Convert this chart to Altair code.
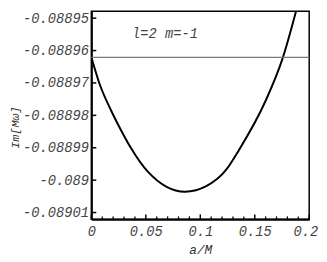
import altair as alt
import pandas as pd

# curve
curve_x = [0.0, 0.0072, 0.0181, 0.0271, 0.0362, 0.0516, 0.086, 0.1059, 0.124, 0.1357, 0.160, 0.1756, 0.190]
curve_y = [-0.0889621, -0.08897, -0.0889785, -0.0889845, -0.08899, -0.0889973, -0.0890036,
           -0.0890018, -0.0889967, -0.0889906, -0.0889755, -0.0889624, -0.0889452]
ref_level = [-0.0889621]
y_ticks = [-0.08895, -0.08896, -0.08897, -0.08898, -0.08899, -0.089, -0.08901]
x_ticks = [0, 0.05, 0.1, 0.15, 0.2]
x_minor = [0.01, 0.02, 0.03, 0.04, 0.06, 0.07, 0.08, 0.09, 0.11, 0.12, 0.13, 0.14, 0.16, 0.17, 0.18, 0.19]
label_text = ["l=2  m=-1"]
label_x = [0.0676]
label_y = [-0.0889548]

W, H = 222, 212
FONT = "Liberation Mono"

xs = alt.Scale(domain=[0, 0.2], nice=False, zero=False)
ys = alt.Scale(domain=[-0.0890121, -0.0889479], nice=False, zero=False)

x_axis = alt.Axis(
    values=x_ticks, title="a/M", labelExpr="format(datum.value, '~g')",
    tickSize=0, labelPadding=5, grid=False, domain=True, domainColor="black", domainWidth=2,
    labelOverlap=False, labelFlush=False,
    labelOffset={"condition": {"test": "datum.value >= 0.2", "value": -4}, "value": 0},
    labelFont=FONT, labelFontStyle="italic", labelFontSize=14, labelColor="#444",
    titleFont=FONT, titleFontStyle="italic", titleFontSize=13, titleFontWeight="normal",
    titleColor="#333", titlePadding=6)
y_axis = alt.Axis(
    values=y_ticks, title="Im[Mω]",
    labelExpr="replace(format(datum.value, '.5~f'), '\u2212', '-')",
    tickSize=0, labelPadding=3, grid=False, domain=True, domainColor="black", domainWidth=2,
    labelOverlap=False, labelFlush=False,
    labelFont=FONT, labelFontStyle="italic", labelFontSize=14, labelColor="#444",
    titleFont=FONT, titleFontStyle="italic", titleFontSize=12, titleFontWeight="normal",
    titleColor="#333", titleAngle=270, titleX=-71, titleY=H / 2 + 12)


def X(field="x"):
    return alt.X(f"{field}:Q", scale=xs, axis=x_axis)


def Y(field="y"):
    return alt.Y(f"{field}:Q", scale=ys, axis=y_axis)


df = pd.DataFrame({"x": curve_x, "y": curve_y})

line = alt.Chart(df).mark_line(color="black", strokeWidth=2, interpolate="monotone", clip=True).encode(
    x=X(), y=Y())

hline = alt.Chart(pd.DataFrame({"y": ref_level})).mark_rule(color="#7a7a7a", strokeWidth=1.3).encode(
    y=Y())

ytk = alt.Chart(pd.DataFrame({"y": y_ticks})).mark_rule(color="black", strokeWidth=1.5).encode(
    y=Y(), x=alt.value(0), x2=alt.value(5))

xtk = alt.Chart(pd.DataFrame({"x": x_ticks})).mark_rule(color="black", strokeWidth=1.5).encode(
    x=X(), y=alt.value(H), y2=alt.value(H - 5))

xmn = alt.Chart(pd.DataFrame({"x": x_minor})).mark_rule(color="black", strokeWidth=1.3).encode(
    x=X(), y=alt.value(H), y2=alt.value(H - 3))

txt = alt.Chart(pd.DataFrame({"t": label_text, "x": label_x, "y": label_y})).mark_text(
    font=FONT, fontStyle="italic", fontSize=14, color="#444").encode(
    x=X(), y=Y(), text="t:N")

chart = alt.layer(line, hline, ytk, xtk, xmn, txt).properties(
    width=W, height=H,
    background="white",
    autosize=alt.AutoSizeParams(type="none"),
    padding={"left": 85, "top": 1, "right": 10, "bottom": 38},
).configure_view(stroke="black", strokeWidth=1.5).configure_axis(labelOverlap=False)

chart.save("out.html", embed_options={"renderer": "svg", "actions": False})
